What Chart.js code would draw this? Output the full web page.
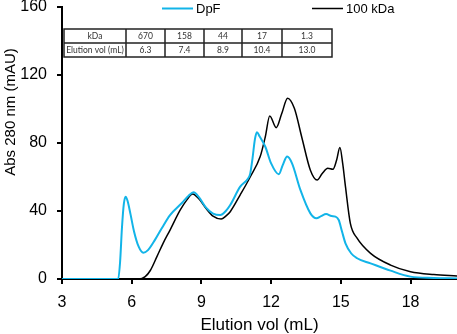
<!DOCTYPE html>
<html>
<head>
<meta charset="utf-8">
<script src="https://cdn.jsdelivr.net/npm/chart.js@4"></script>
<style>
  html, body { margin: 0; padding: 0; background: #fff; }
  #wrap { width: 457px; height: 334px; position: relative; }
</style>
</head>
<body>
<div id="wrap"><canvas id="chart"></canvas></div>
<script>
// DpF trace (elution vol mL, Abs 280 nm mAU)
const dpfX = [3, 5.0, 5.42, 5.5, 5.58, 5.66, 5.74, 5.82, 5.95, 6.1, 6.3, 6.5, 6.7, 7.0, 7.3, 7.65, 8.16, 8.45, 8.66, 8.9, 9.2, 9.5, 9.81, 10.05, 10.24, 10.67, 11.0, 11.1, 11.2, 11.3, 11.39, 11.5, 11.75, 12.0, 12.33, 12.5, 12.69, 12.9, 13.26, 13.69, 13.95, 14.15, 14.37, 14.6, 14.77, 14.91, 15.05, 15.2, 15.45, 15.7, 16.28, 17.14, 18, 19, 20];
const dpfY = [0, 0, 0, 10, 30, 44, 48.4, 46, 38, 28, 19, 15.5, 17, 23, 30, 37.6, 44.7, 49, 51, 48, 42, 38.5, 37.6, 40, 43.5, 54.3, 59, 62, 71, 82, 86.3, 84, 77.8, 68, 61.6, 67, 72, 68, 52.4, 38.6, 35.7, 37, 38.2, 37, 36.7, 34.7, 28, 21, 15, 12.2, 9.2, 4.9, 1.4, 0.6, 0.3];

// 100 kDa trace
const kdaX = [3, 6.3, 6.58, 6.8, 7.08, 7.35, 7.65, 8.09, 8.4, 8.62, 8.9, 9.2, 9.5, 9.85, 10.05, 10.24, 10.67, 11.1, 11.53, 11.75, 11.94, 12.22, 12.45, 12.71, 13.0, 13.33, 13.69, 13.98, 14.2, 14.44, 14.66, 14.82, 14.96, 15.08, 15.2, 15.41, 15.7, 16.28, 17.14, 18, 19, 20];
const kdaY = [0, 0, 1.4, 5, 13, 21, 28.8, 40.6, 47, 50, 47, 41.5, 37, 35.3, 37, 39.6, 49.5, 60, 72, 83.7, 95.9, 89, 97, 106.3, 100.4, 82.8, 64, 58.2, 62, 65.1, 64.5, 70, 77.3, 68, 54.3, 32.7, 24, 15.1, 8.2, 4.3, 2.6, 1.8];

const xTicks = [3, 6, 9, 12, 15, 18];
const yTicks = [0, 40, 80, 120, 160];

// calibration table
const tableHead = ["kDa", "670", "158", "44", "17", "1.3"];
const tableRow = ["Elution vol (mL)", "6.3", "7.4", "8.9", "10.4", "13.0"];

const seriesNames = ["DpF", "100 kDa"];
const seriesColors = ["#12b4e8", "#000000"];

const FONT = "'Liberation Sans', Arial, sans-serif";

function toPoints(xs, ys) {
  return xs.map((x, i) => ({ x: x, y: ys[i] }));
}

// legend, table and y title drawn on top of the plot
const extras = {
  id: "extras",
  afterDraw(chart) {
    const ctx = chart.ctx;
    ctx.save();

    // legend
    ctx.font = "13px " + FONT;
    ctx.textBaseline = "middle";
    ctx.textAlign = "left";
    const legend = [[162, 196], [312, 346]];
    seriesNames.forEach((name, i) => {
      ctx.strokeStyle = seriesColors[i];
      ctx.lineWidth = i === 0 ? 2 : 1.5;
      ctx.beginPath();
      ctx.moveTo(legend[i][0], 8.5);
      ctx.lineTo(legend[i][0] + 31, 8.5);
      ctx.stroke();
      ctx.fillStyle = "#000";
      ctx.fillText(name, legend[i][1], 9);
    });

    // table
    const cols = [64, 126, 165, 204, 242, 282, 332];
    const rows = [29, 43, 57];
    let size = 11;
    ctx.font = size + "px Lato, sans-serif";
    while (ctx.measureText(tableRow[0]).width > 58 && size > 6) {
      size -= 0.25;
      ctx.font = size + "px Lato, sans-serif";
    }
    ctx.strokeStyle = "#222";
    ctx.lineWidth = 1.5;
    ctx.strokeRect(cols[0], rows[0], cols[cols.length - 1] - cols[0], rows[2] - rows[0]);
    ctx.beginPath();
    ctx.moveTo(cols[0], rows[1]);
    ctx.lineTo(cols[cols.length - 1], rows[1]);
    for (let i = 1; i < cols.length - 1; i++) {
      ctx.moveTo(cols[i], rows[0]);
      ctx.lineTo(cols[i], rows[2]);
    }
    ctx.stroke();
    ctx.fillStyle = "#333";
    ctx.textAlign = "center";
    ctx.textBaseline = "middle";
    for (let i = 0; i < tableHead.length; i++) {
      const cx = (cols[i] + cols[i + 1]) / 2;
      ctx.fillText(tableHead[i], cx, (rows[0] + rows[1]) / 2 + 0.5);
      ctx.fillText(tableRow[i], cx, (rows[1] + rows[2]) / 2 + 0.5);
    }

    // y axis title
    ctx.font = "15px " + FONT;
    ctx.fillStyle = "#000";
    ctx.translate(11, 112);
    ctx.rotate(-Math.PI / 2);
    ctx.textAlign = "center";
    ctx.textBaseline = "middle";
    ctx.fillText("Abs 280 nm (mAU)", 0, 0);
    ctx.restore();
  }
};

new Chart(document.getElementById("chart"), {
  type: "scatter",
  data: {
    datasets: [
      {
        label: seriesNames[0],
        data: toPoints(dpfX, dpfY),
        borderColor: seriesColors[0],
        borderWidth: 2,
        showLine: true,
        pointRadius: 0,
        cubicInterpolationMode: "monotone"
      },
      {
        label: seriesNames[1],
        data: toPoints(kdaX, kdaY),
        borderColor: seriesColors[1],
        borderWidth: 1.5,
        showLine: true,
        pointRadius: 0,
        cubicInterpolationMode: "monotone"
      }
    ]
  },
  options: {
    responsive: true,
    maintainAspectRatio: false,
    animation: false,
    layout: { padding: { top: 7, right: 0, left: 0, bottom: 0 } },
    plugins: {
      legend: { display: false },
      tooltip: { enabled: false }
    },
    scales: {
      x: {
        type: "linear",
        min: 3,
        max: 20,
        afterBuildTicks: (scale) => { scale.ticks = xTicks.map(v => ({ value: v })); },
        afterFit: (scale) => { scale.height = 55; scale.paddingLeft = 0; scale.paddingRight = 0; },
        ticks: { color: "#000", font: { family: FONT, size: 16 }, padding: 9 },
        grid: { display: true, drawOnChartArea: false, drawTicks: true, tickLength: 5, color: "#000", lineWidth: 2 },
        border: { display: true, color: "#000", width: 2 },
        title: { display: true, text: "Elution vol (mL)", color: "#000", font: { family: FONT, size: 17 }, padding: { top: 0, bottom: -2 } }
      },
      y: {
        min: 0,
        max: 160,
        afterBuildTicks: (scale) => { scale.ticks = yTicks.map(v => ({ value: v })); },
        afterFit: (scale) => { scale.width = 62; scale.paddingTop = 0; scale.paddingBottom = 0; },
        ticks: { color: "#000", font: { family: FONT, size: 16 }, padding: 10 },
        grid: { display: true, drawOnChartArea: false, drawTicks: true, tickLength: 5, color: "#000", lineWidth: 2 },
        border: { display: true, color: "#000", width: 2 }
      }
    }
  },
  plugins: [extras]
});
</script>
</body>
</html>
